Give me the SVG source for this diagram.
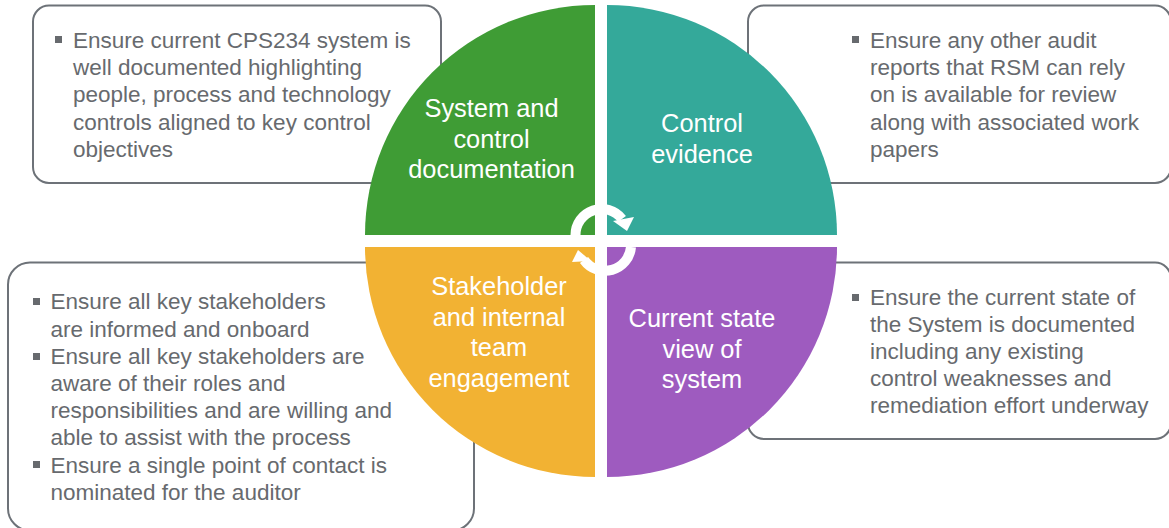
<svg xmlns="http://www.w3.org/2000/svg" width="1169" height="528" viewBox="0 0 1169 528">
<style>
.box{fill:#fff;stroke:#6d7278;stroke-width:2}
.t{font-family:"Liberation Sans",Arial,sans-serif;font-size:22.5px;fill:#676a6e}
.l{font-family:"Liberation Sans",Arial,sans-serif;font-size:25.4px;fill:#fff;text-anchor:middle}
.b{fill:#676a6e}
.ring{fill:none;stroke:#fff;stroke-width:10}
</style>
<rect width="1169" height="528" fill="#fff"/>
<g id="box-system">
<rect class="box" x="33" y="5.500" width="408" height="177.500" rx="16"/>
<rect class="b" x="55" y="36" width="7" height="7"/>
<text class="t" x="73" y="47.500">Ensure current CPS234 system is</text>
<text class="t" x="73" y="75">well documented highlighting</text>
<text class="t" x="73" y="102">people, process and technology</text>
<text class="t" x="73" y="129.500">controls aligned to key control</text>
<text class="t" x="73" y="156.500">objectives</text>
</g>
<g id="box-evidence">
<rect class="box" x="748" y="5.500" width="423" height="177.500" rx="16"/>
<rect class="b" x="852" y="36" width="7" height="7"/>
<text class="t" x="870" y="47.500">Ensure any other audit</text>
<text class="t" x="870" y="75">reports that RSM can rely</text>
<text class="t" x="870" y="102">on is available for review</text>
<text class="t" x="870" y="129.500">along with associated work</text>
<text class="t" x="870" y="156.500">papers</text>
</g>
<g id="box-current">
<rect class="box" x="748" y="262.500" width="423" height="176.500" rx="16"/>
<rect class="b" x="852" y="294" width="7" height="7"/>
<text class="t" x="870" y="304.500">Ensure the current state of</text>
<text class="t" x="870" y="332">the System is documented</text>
<text class="t" x="870" y="359">including any existing</text>
<text class="t" x="870" y="386">control weaknesses and</text>
<text class="t" x="870" y="413">remediation effort underway</text>
</g>
<g id="box-stakeholder">
<rect class="box" x="8" y="262.500" width="466" height="268" rx="22"/>
<rect class="b" x="33" y="298" width="7" height="7"/>
<text class="t" x="50.500" y="309">Ensure all key stakeholders</text>
<text class="t" x="50.500" y="336.500">are informed and onboard</text>
<rect class="b" x="33" y="353" width="7" height="7"/>
<text class="t" x="50.500" y="364">Ensure all key stakeholders are</text>
<text class="t" x="50.500" y="391">aware of their roles and</text>
<text class="t" x="50.500" y="418">responsibilities and are willing and</text>
<text class="t" x="50.500" y="445">able to assist with the process</text>
<rect class="b" x="33" y="461" width="7" height="7"/>
<text class="t" x="50.500" y="472.500">Ensure a single point of contact is</text>
<text class="t" x="50.500" y="499.500">nominated for the auditor</text>
</g>
<g id="q-system">
<path d="M595 5A230 230 0 0 0 365 235H595Z" fill="#3f9c35"/>
<text class="l" x="491.500" y="117">System and</text>
<text class="l" x="491.500" y="148">control</text>
<text class="l" x="491.500" y="178">documentation</text>
</g>
<g id="q-evidence">
<path d="M607 5A230 230 0 0 1 837 235H607Z" fill="#34a99a"/>
<text class="l" x="702" y="132">Control</text>
<text class="l" x="702" y="163">evidence</text>
</g>
<g id="q-stakeholder">
<path d="M595 477A230 230 0 0 1 365 247H595Z" fill="#f2b233"/>
<text class="l" x="499" y="295">Stakeholder</text>
<text class="l" x="499" y="326">and internal</text>
<text class="l" x="499" y="356">team</text>
<text class="l" x="499" y="387">engagement</text>
</g>
<g id="q-current">
<path d="M607 477A230 230 0 0 0 837 247H607Z" fill="#9e5bbf"/>
<text class="l" x="702" y="327">Current state</text>
<text class="l" x="702" y="358">view of</text>
<text class="l" x="702" y="388">system</text>
</g>
<g id="connectors">
<path class="ring" d="M575.500 235A26 26 0 0 1 622 219"/>
<polygon points="613,221 634,217 627,231" fill="#fff"/>
<path class="ring" d="M631 247A26 26 0 0 1 584 260"/>
<polygon points="591,261 572,262 578,250" fill="#fff"/>
</g>
</svg>
